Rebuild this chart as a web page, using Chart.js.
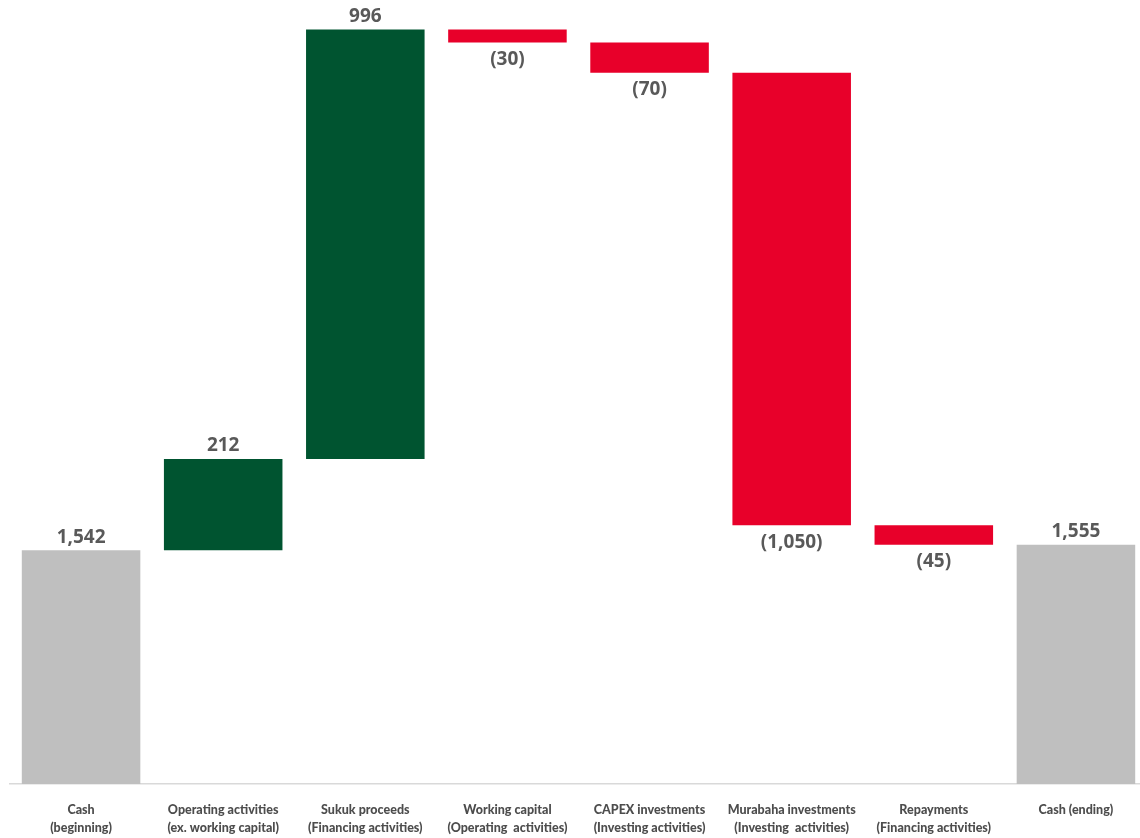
<!DOCTYPE html>
<html>

<head>
  <meta charset="UTF-8">
  <meta name="viewport" content="width=device-width, initial-scale=1.0">
  <script src="https://cdn.jsdelivr.net/npm/chart.js"></script>
  <title>Cash bridge</title>
  <style>
    html, body { margin: 0; padding: 0; background: #fff; overflow: hidden; }
    .grafico { position: absolute; left: 0; top: 0; width: 1147px; height: 838px; }
  </style>
</head>

<body>
  <div class="grafico">
    <canvas id="cashChart"></canvas>
  </div>
</body>

</html>

<script>
  // categories (second line in parentheses)
  var categorias = [
    ["Cash", "(beginning)"],
    ["Operating activities", "(ex. working capital)"],
    ["Sukuk proceeds", "(Financing activities)"],
    ["Working capital", "(Operating  activities)"],
    ["CAPEX investments", "(Investing activities)"],
    ["Murabaha investments", "(Investing  activities)"],
    ["Repayments", "(Financing activities)"],
    ["Cash (ending)"]
  ];

  var caixaInicial = 1542;
  var variacoes = [212, 996, -30, -70, -1050, -45];
  var caixaFinal = 1555;

  var eixoMin = 1000;
  var eixoMax = 2800;

  var corTotal = "#BFBFBF";
  var corPositivo = "#005430";
  var corNegativo = "#E8002A";

  // floating bars: [bottom, top] for each step
  var barras = [];
  var cores = [];
  var rotulos = [];

  barras.push([eixoMin, caixaInicial]);
  cores.push(corTotal);
  rotulos.push(caixaInicial);

  var acumulado = caixaInicial;
  for (var i = 0; i < variacoes.length; i++) {
    var novo = acumulado + variacoes[i];
    barras.push([Math.min(acumulado, novo), Math.max(acumulado, novo)]);
    cores.push(variacoes[i] >= 0 ? corPositivo : corNegativo);
    rotulos.push(variacoes[i]);
    acumulado = novo;
  }

  barras.push([eixoMin, caixaFinal]);
  cores.push(corTotal);
  rotulos.push(caixaFinal);

  function formatar(v) {
    var txt = Math.abs(v).toLocaleString("en-US");
    return v < 0 ? "(" + txt + ")" : txt;
  }

  // value labels: above for totals / increases, below for decreases
  var rotuloValores = {
    id: "rotuloValores",
    afterDatasetsDraw: function (chart) {
      var ctx = chart.ctx;
      var meta = chart.getDatasetMeta(0);
      ctx.save();
      ctx.font = "bold 19px 'Open Sans'";
      ctx.fillStyle = "#595959";
      ctx.textAlign = "center";
      ctx.textBaseline = "middle";
      meta.data.forEach(function (bar, idx) {
        var v = rotulos[idx];
        var props = bar.getProps(["x", "y", "base"], true);
        var topo = Math.min(props.y, props.base);
        var fundo = Math.max(props.y, props.base);
        if (v < 0) {
          ctx.fillText(formatar(v), props.x, fundo + 17);
        } else {
          ctx.fillText(formatar(v), props.x, topo - 13);
        }
      });
      ctx.restore();
    }
  };

  const data = {
    labels: categorias,
    datasets: [{
      data: barras,
      backgroundColor: cores,
      borderWidth: 0,
      barPercentage: 0.834,
      categoryPercentage: 1.0
    }]
  };

  const config = {
    type: "bar",
    data: data,
    plugins: [rotuloValores],
    options: {
      responsive: true,
      maintainAspectRatio: false,
      animation: false,
      layout: {
        padding: { top: 8, left: 10, right: 0, bottom: 1 }
      },
      plugins: {
        legend: { display: false },
        tooltip: { enabled: false }
      },
      scales: {
        x: {
          grid: { display: false, drawTicks: false },
          border: { display: true, color: "#D9D9D9", width: 1.5 },
          ticks: {
            color: "#4d4d4d",
            padding: 17,
            maxRotation: 0,
            autoSkip: false,
            font: { family: "Lato", size: 12.5, weight: 900, lineHeight: 1.45 }
          },
          afterFit: function (scale) {
            scale.height = 53;
          }
        },
        y: {
          display: false,
          min: eixoMin,
          max: eixoMax
        }
      }
    }
  };

  const grafico = new Chart(document.getElementById("cashChart"), config);
</script>
